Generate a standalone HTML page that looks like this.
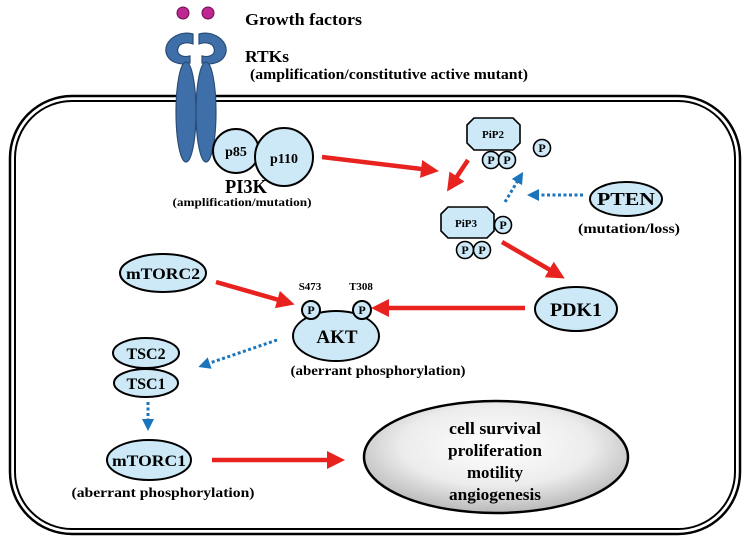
<!DOCTYPE html>
<html><head><meta charset="utf-8"><style>
html,body{margin:0;padding:0;background:#fff;}
svg{display:block;font-family:"Liberation Serif",serif;font-weight:bold;}
</style></head><body>
<svg width="749" height="546" viewBox="0 0 749 546">
<defs>
<marker id="ra" markerWidth="4" markerHeight="4" refX="2" refY="2" orient="auto" markerUnits="strokeWidth"><path d="M0,0 L4,2 L0,4 z" fill="#e8231f"/></marker>
<marker id="ba" markerWidth="4" markerHeight="4" refX="2" refY="2" orient="auto" markerUnits="strokeWidth"><path d="M0,0 L4,2 L0,4 z" fill="#1b75bc"/></marker>
<radialGradient id="gg" cx="50%" cy="40%" r="60%"><stop offset="0" stop-color="#ffffff"/><stop offset="0.6" stop-color="#ececec"/><stop offset="1" stop-color="#b8b8b8"/></radialGradient>
</defs>
<g fill="none" stroke="#000">
<rect x="10" y="96" width="730" height="438" rx="62" stroke-width="2.5"/>
<rect x="15" y="101" width="720" height="428" rx="57" stroke-width="2"/>
</g>
<g fill="#c0268f" stroke="#6a1050" stroke-width="1">
<circle cx="183" cy="13" r="6"/><circle cx="208" cy="13" r="6"/>
</g>
<text x="245" y="25" font-size="17" textLength="117" lengthAdjust="spacingAndGlyphs">Growth  factors</text>
<g fill="#3f6fa8" stroke="#2a4d78" stroke-width="1.2">
<path d="M193,34 C180,30 164,40 166,52 C168,62 180,66 190,63 L190,56 C182,58 176,54 178,48 C180,42 188,42 193,44 Z"/>
<path d="M199,34 C212,30 228,40 226,52 C224,62 212,66 202,63 L202,56 C210,58 216,54 214,48 C212,42 204,42 199,44 Z"/>
<ellipse cx="186" cy="112" rx="10" ry="50"/>
<ellipse cx="206" cy="112" rx="10" ry="50"/>
</g>
<text x="245" y="62" font-size="17" textLength="44" lengthAdjust="spacingAndGlyphs">RTKs</text>
<text x="250" y="79" font-size="15" textLength="278" lengthAdjust="spacingAndGlyphs">(amplification/constitutive active mutant)</text>
<g fill="#cde9f7" stroke="#000" stroke-width="2">
<ellipse cx="236" cy="151" rx="23" ry="22"/>
<ellipse cx="284" cy="157" rx="29" ry="29"/>
</g>
<text x="236" y="156" font-size="14" text-anchor="middle">p85</text>
<text x="284" y="163" font-size="14" text-anchor="middle">p110</text>
<text x="246" y="193" font-size="20" text-anchor="middle" textLength="42" lengthAdjust="spacingAndGlyphs">PI3K</text>
<text x="242" y="206" font-size="12" text-anchor="middle" textLength="139" lengthAdjust="spacingAndGlyphs">(amplification/mutation)</text>
<g stroke="#e8231f" stroke-width="4.5" fill="none">
<line x1="322" y1="157" x2="430" y2="170" marker-end="url(#ra)"/>
<line x1="468" y1="160" x2="452" y2="184" marker-end="url(#ra)"/>
<line x1="502" y1="242" x2="557" y2="274" marker-end="url(#ra)"/>
<line x1="525" y1="308" x2="380" y2="308" marker-end="url(#ra)"/>
<line x1="216" y1="282" x2="286" y2="302" marker-end="url(#ra)"/>
<line x1="212" y1="460" x2="336" y2="460" marker-end="url(#ra)"/>
</g>
<g stroke="#1b75bc" stroke-width="3" stroke-dasharray="3,2.5" fill="none">
<line x1="505" y1="202" x2="520" y2="177" marker-end="url(#ba)"/>
<line x1="583" y1="195" x2="533" y2="195" marker-end="url(#ba)"/>
<line x1="277" y1="340" x2="204" y2="365" marker-end="url(#ba)"/>
<line x1="148" y1="402" x2="148" y2="425" marker-end="url(#ba)"/>
</g>
<g fill="#cde9f7" stroke="#000" stroke-width="1.6">
<path d="M474,118 L513,118 L520,125 L520,143 L513,150 L474,150 L467,143 L467,125 Z"/>
<circle cx="491" cy="160" r="8.5"/><circle cx="507" cy="160" r="8.5"/>
<circle cx="542" cy="148" r="8.5"/>
</g>
<text x="493" y="138" font-size="11" text-anchor="middle">PiP2</text>
<g fill="#cde9f7" stroke="#000" stroke-width="1.6">
<path d="M448,207 L487,207 L494,214 L494,231 L487,238 L448,238 L441,231 L441,214 Z"/>
<circle cx="503" cy="225" r="8.5"/>
<circle cx="465" cy="250" r="8.5"/><circle cx="482" cy="250" r="8.5"/>
</g>
<text x="466" y="227" font-size="11" text-anchor="middle">PiP3</text>
<g font-size="12" text-anchor="middle">
<text x="491" y="164">P</text><text x="507" y="164">P</text><text x="542" y="152">P</text>
<text x="503" y="229">P</text><text x="465" y="254">P</text><text x="482" y="254">P</text>
</g>
<g fill="#cde9f7" stroke="#000" stroke-width="2">
<ellipse cx="626" cy="199" rx="36" ry="17"/>
<ellipse cx="576" cy="309" rx="41" ry="22"/>
<ellipse cx="336" cy="336" rx="43" ry="25"/>
<circle cx="311" cy="310" r="9"/><circle cx="362" cy="310" r="9"/>
<ellipse cx="163" cy="273" rx="43" ry="19"/>
<ellipse cx="146" cy="353" rx="33" ry="15"/>
<ellipse cx="146" cy="383" rx="32" ry="14"/>
<ellipse cx="149" cy="460" rx="42" ry="20"/>
</g>
<text x="576" y="316" font-size="19" text-anchor="middle" textLength="52" lengthAdjust="spacingAndGlyphs">PDK1</text>
<text x="626" y="205" font-size="18" text-anchor="middle" textLength="58" lengthAdjust="spacingAndGlyphs">PTEN</text>
<text x="629" y="233" font-size="14" text-anchor="middle" textLength="102" lengthAdjust="spacingAndGlyphs">(mutation/loss)</text>
<text x="337" y="343" font-size="19" text-anchor="middle">AKT</text>
<text x="311" y="314" font-size="12" text-anchor="middle">P</text>
<text x="362" y="314" font-size="12" text-anchor="middle">P</text>
<text x="310" y="290" font-size="11" text-anchor="middle">S473</text>
<text x="361" y="290" font-size="11" text-anchor="middle">T308</text>
<text x="378" y="375" font-size="14" text-anchor="middle" textLength="175" lengthAdjust="spacingAndGlyphs">(aberrant phosphorylation)</text>
<text x="163" y="279" font-size="16" text-anchor="middle" textLength="74" lengthAdjust="spacingAndGlyphs">mTORC2</text>
<text x="146" y="359" font-size="16" text-anchor="middle">TSC2</text>
<text x="146" y="389" font-size="16" text-anchor="middle">TSC1</text>
<text x="149" y="466" font-size="16" text-anchor="middle" textLength="74" lengthAdjust="spacingAndGlyphs">mTORC1</text>
<text x="163" y="497" font-size="14" text-anchor="middle" textLength="183" lengthAdjust="spacingAndGlyphs">(aberrant phosphorylation)</text>
<ellipse cx="496" cy="457" rx="132" ry="56" fill="url(#gg)" stroke="#000" stroke-width="2.5"/>
<g font-size="17" text-anchor="middle">
<text x="495" y="434" textLength="92" lengthAdjust="spacingAndGlyphs">cell survival</text>
<text x="495" y="456" textLength="94" lengthAdjust="spacingAndGlyphs">proliferation</text>
<text x="495" y="478" textLength="56" lengthAdjust="spacingAndGlyphs">motility</text>
<text x="495" y="500" textLength="92" lengthAdjust="spacingAndGlyphs">angiogenesis</text>
</g>
</svg>
</body></html>
